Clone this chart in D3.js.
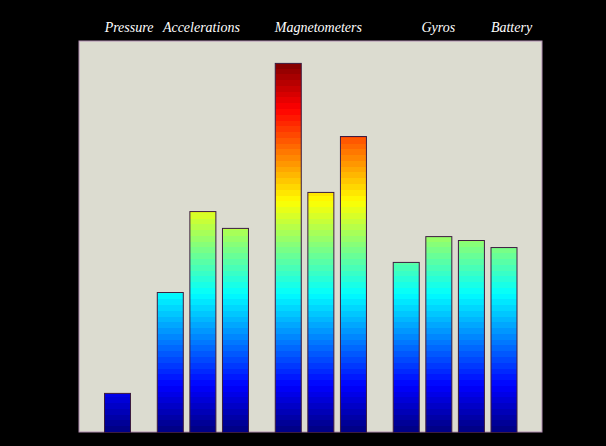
<!DOCTYPE html>
<html>
<head>
<meta charset="utf-8">
<script src="https://cdn.jsdelivr.net/npm/d3@7"></script>
<style>
  body { margin: 0; background: #000; }
  svg { display: block; }
</style>
</head>
<body>
<svg id="chart"></svg>
<script>
// Sensor readings, one bar each
const groups = ['Pressure', 'Accelerations', 'Magnetometers', 'Gyros', 'Battery'];
const barGroup = ['Pressure', 'Accelerations', 'Accelerations', 'Accelerations',
  'Magnetometers', 'Magnetometers', 'Magnetometers', 'Gyros', 'Gyros', 'Gyros', 'Battery'];
const values = [0.100, 0.358, 0.565, 0.522, 0.944, 0.614, 0.757, 0.435, 0.501, 0.491, 0.473];

const W = 606, H = 446;
const plot = { left: 79, right: 542, top: 41, bottom: 432 };

const svg = d3.select('#chart').attr('width', W).attr('height', H);
svg.append('rect').attr('width', W).attr('height', H).attr('fill', '#000');

// Slot positions: bars in a group are adjacent, a gap separates groups (Battery sits next to Gyros)
const gap = { Accelerations: 0.62, Magnetometers: 0.62, Gyros: 0.62, Battery: 0 };
let pos = [];
let p = 0;
barGroup.forEach((g, i) => {
  if (i > 0 && g !== barGroup[i - 1]) p += 1 + gap[g];
  else if (i > 0) p += 1;
  pos.push(p);
});

const x = d3.scaleLinear().domain([0, d3.max(pos)]).range([117, 503.5]);
const barW = 26;

const y = d3.scaleLinear().domain([0, 1]).range([plot.bottom, plot.top]);
const vmax = d3.max(values);

// Plot area
svg.append('rect')
  .attr('x', plot.left).attr('y', plot.top)
  .attr('width', plot.right - plot.left).attr('height', plot.bottom - plot.top)
  .attr('fill', '#dcdcd0')
  .attr('stroke', '#b08cb0').attr('stroke-width', 1);

// Stepped jet colour map from 0 up to the tallest bar
const jet = t => {
  const c = v => Math.max(0, Math.min(1, v));
  const r = c(Math.min(4 * t - 1.5, -4 * t + 4.5));
  const g = c(Math.min(4 * t - 0.5, -4 * t + 3.5));
  const b = c(Math.min(4 * t + 0.5, -4 * t + 2.5));
  return d3.rgb(r * 255, g * 255, b * 255).formatHex();
};
const steps = 64;
const grad = svg.append('defs').append('linearGradient')
  .attr('id', 'jet')
  .attr('gradientUnits', 'userSpaceOnUse')
  .attr('x1', 0).attr('x2', 0)
  .attr('y1', y(0)).attr('y2', y(vmax));
d3.range(steps).forEach(i => {
  const col = jet((i + 0.5) / steps);
  grad.append('stop').attr('offset', i / steps).attr('stop-color', col);
  grad.append('stop').attr('offset', (i + 1) / steps).attr('stop-color', col);
});

// Bars
svg.selectAll('rect.bar')
  .data(values)
  .enter()
  .append('rect')
  .attr('class', 'bar')
  .attr('x', (d, i) => x(pos[i]) - barW / 2 + 0.5)
  .attr('y', d => y(d) + 0.5)
  .attr('width', barW)
  .attr('height', d => y(0) - y(d))
  .attr('fill', 'url(#jet)')
  .attr('stroke', '#3c1c40')
  .attr('stroke-width', 1);

// Group labels above the plot
const labelShift = { Pressure: 12, Accelerations: -1, Magnetometers: -2, Gyros: 0, Battery: 8 };
svg.selectAll('text.group')
  .data(groups)
  .enter()
  .append('text')
  .attr('class', 'group')
  .attr('x', g => {
    const idx = barGroup.map((b, i) => b === g ? i : -1).filter(i => i >= 0);
    return d3.mean(idx, i => x(pos[i])) + labelShift[g];
  })
  .attr('y', 32)
  .attr('text-anchor', 'middle')
  .attr('fill', '#fff')
  .style('font-family', '"Liberation Serif", serif')
  .style('font-style', 'italic')
  .style('font-size', '14px')
  .text(g => g);
</script>
</body>
</html>
